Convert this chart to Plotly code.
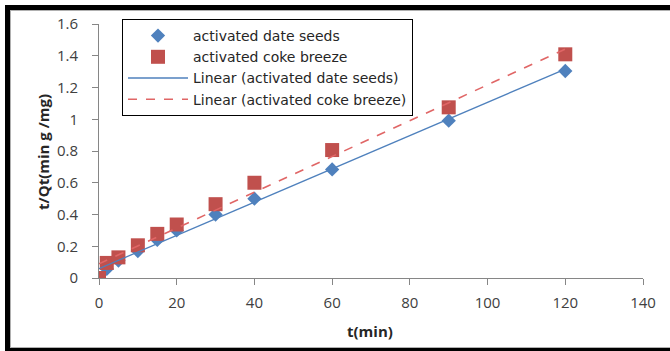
import numpy as np
import plotly.graph_objects as go

# ---- data ----
time_min = [0, 2, 5, 10, 15, 20, 30, 40, 60, 90, 120]
date_seeds = [0.0, 0.057, 0.11, 0.17, 0.24, 0.30, 0.40, 0.50, 0.684, 0.991, 1.304]
coke_breeze = [0.0, 0.095, 0.13, 0.206, 0.278, 0.337, 0.465, 0.60, 0.806, 1.075, 1.409]
x_ticks = [0, 20, 40, 60, 80, 100, 120, 140]
y_ticks = [0, 0.2, 0.4, 0.6, 0.8, 1.0, 1.2, 1.4, 1.6]
y_tick_text = ["0", "0.2", "0.4", "0.6", "0.8", "1", "1.2", "1.4", "1.6"]

BLUE = "#4F81BD"
RED = "#C0504D"
RED_LINE = "#E06666"
FONT = "Open Sans"
LEGEND_FONT = "DejaVu Sans"

W, H = 670, 351
L, R, T, B = 99, 27, 24, 73
PW, PH = W - L - R, H - T - B

def px(xp):
    return (xp - L) / PW

def py(yp):
    return (H - B - yp) / PH

xs = np.array(time_min, dtype=float)
fit_x = np.array([min(time_min), max(time_min)], dtype=float)
b_ds = np.polyfit(xs, np.array(date_seeds), 1)
b_cb = np.polyfit(xs, np.array(coke_breeze), 1)

fig = go.Figure()
fig.add_trace(go.Scatter(
    x=time_min, y=date_seeds, mode="markers", name="activated date seeds",
    marker=dict(symbol="diamond", size=11, color=BLUE, line=dict(width=0))))
fig.add_trace(go.Scatter(
    x=time_min, y=coke_breeze, mode="markers", name="activated coke breeze",
    marker=dict(symbol="square", size=14, color=RED, line=dict(width=0))))
fig.add_trace(go.Scatter(
    x=fit_x, y=np.polyval(b_ds, fit_x), mode="lines",
    name="Linear (activated date seeds)",
    line=dict(color=BLUE, width=1.3)))
fig.add_trace(go.Scatter(
    x=fit_x, y=np.polyval(b_cb, fit_x), mode="lines",
    name="Linear (activated coke breeze)",
    line=dict(color=RED_LINE, width=1.6, dash="dash")))

axis_common = dict(
    showgrid=False, zeroline=False, showline=True, linecolor="#868686",
    linewidth=1, ticks="outside", ticklen=6, tickcolor="#868686",
    tickfont=dict(family=FONT, size=15, color="#404040"),
)
fig.update_xaxes(range=[0, 140], tickvals=x_ticks, ticklabelstandoff=5,
                 **axis_common)
fig.update_yaxes(range=[0, 1.6], tickvals=y_ticks, ticktext=y_tick_text,
                 ticklabelstandoff=11, **axis_common)

shapes = []
# outer frame (left, top, bottom) with thin grey inner line
shapes.append(dict(type="line", xref="paper", yref="paper",
                   x0=px(7.5), x1=px(7.5), y0=py(5), y1=py(351),
                   line=dict(color="black", width=5)))
shapes.append(dict(type="line", xref="paper", yref="paper",
                   x0=px(5), x1=px(670), y0=py(7.5), y1=py(7.5),
                   line=dict(color="black", width=5)))
shapes.append(dict(type="line", xref="paper", yref="paper",
                   x0=px(5), x1=px(670), y0=py(350), y1=py(350),
                   line=dict(color="black", width=4)))
shapes.append(dict(type="line", xref="paper", yref="paper",
                   x0=px(10.5), x1=px(10.5), y0=py(10), y1=py(348),
                   line=dict(color="#b0b0b0", width=1)))
shapes.append(dict(type="line", xref="paper", yref="paper",
                   x0=px(10), x1=px(670), y0=py(10.5), y1=py(10.5),
                   line=dict(color="#b0b0b0", width=1)))
shapes.append(dict(type="line", xref="paper", yref="paper",
                   x0=px(10), x1=px(670), y0=py(347.5), y1=py(347.5),
                   line=dict(color="#b0b0b0", width=1)))

annotations = [
    dict(text="<b>t(min)</b>", xref="paper", yref="paper",
         x=px(370), y=py(331), showarrow=False, xanchor="center",
         yanchor="middle", font=dict(family=FONT, size=15, color="#262626")),
    dict(text="<b>t/Qt(min g /mg)</b>", xref="paper", yref="paper",
         x=px(43), y=py(152), showarrow=False, textangle=-90,
         xanchor="center", yanchor="middle",
         font=dict(family=FONT, size=15, color="#262626")),
]

fig.update_layout(
    width=W, height=H,
    margin=dict(l=L, r=R, t=T, b=B, autoexpand=False),
    paper_bgcolor="white", plot_bgcolor="white",
    showlegend=True,
    legend=dict(
        x=px(122), y=py(19), xanchor="left", yanchor="top",
        bgcolor="white", bordercolor="black", borderwidth=1,
        font=dict(family=LEGEND_FONT, size=14, color="#262626"),
        itemwidth=60, tracegroupgap=0,
    ),
    shapes=shapes,
    annotations=annotations,
)

fig.write_html("out.html",
               config={"displayModeBar": False},
               post_script="document.body.style.margin='0';"
                           "document.body.style.overflow='hidden';")
